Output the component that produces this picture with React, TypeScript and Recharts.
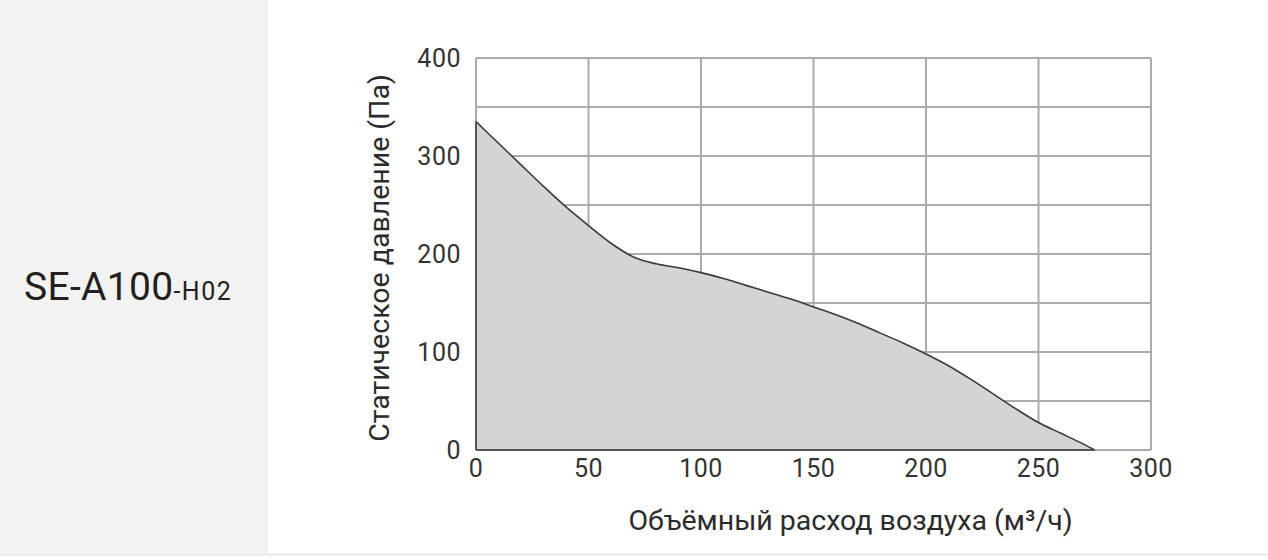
import React from 'react';
import { AreaChart, Area, XAxis, YAxis, CartesianGrid, ReferenceLine } from 'recharts';

// fan curve SE-A100-H02
const airflow = [0, 10, 20, 30, 40, 50, 60, 70, 80, 90, 100, 110, 120, 130, 140, 150, 160, 170, 180, 190, 200, 210, 220, 230, 240, 250, 260, 270, 275];
const pressure = [335, 313, 291, 269, 248, 229, 211, 197, 190, 186, 181, 175, 168, 161, 154, 146, 138, 129, 119, 109, 98, 86, 72, 57, 42, 28, 17, 6, 0];
const xTicks = [0, 50, 100, 150, 200, 250, 300];
const yTicks = [0, 50, 100, 150, 200, 250, 300, 350, 400];

const modelName = 'SE-A100';
const modelSuffix = '-H02';
const xTitle = 'Объёмный расход воздуха (м³/ч)';
const yTitle = 'Статическое давление (Па)';

const data = airflow.map((q, i) => ({ q, p: pressure[i] }));
const qStart = airflow[0];
const qEnd = airflow[airflow.length - 1];

const tickFont = { fontFamily: 'Roboto, sans-serif', fontSize: 25, fill: '#333333', letterSpacing: 0.5 };
const titleFont = 'Roboto, "Noto Sans", sans-serif';

const XTitle = ({ viewBox }: any) => {
  const cx = viewBox.x + viewBox.width / 2 + 37;
  return (
    <text x={cx} y={530} textAnchor="middle" fontFamily={titleFont} fontSize={28.5} fill="#2b2b2b">
      {xTitle}
    </text>
  );
};

const YTitle = ({ viewBox }: any) => {
  const cy = viewBox.y + viewBox.height / 2 + 4;
  const x = 389;
  return (
    <text x={x} y={cy} textAnchor="middle" fontFamily={titleFont} fontSize={28.5} fill="#2b2b2b" transform={`rotate(-90, ${x}, ${cy})`}>
      {yTitle}
    </text>
  );
};

const App = () => {
  return (
    <div style={{ position: 'absolute', left: 0, top: 0, width: 1268, height: 560, background: '#ffffff', overflow: 'hidden' }}>
      <div style={{ position: 'absolute', left: 0, top: 0, width: 268, height: 553, background: '#f2f2f2' }}>
        <div style={{ position: 'absolute', left: 24, top: 264, fontFamily: 'Roboto, sans-serif', color: '#231f20', whiteSpace: 'nowrap' }}>
          <span style={{ fontSize: 39, letterSpacing: 0.3 }}>{modelName}</span>
          <span style={{ fontSize: 25, letterSpacing: 1.5 }}>{modelSuffix}</span>
        </div>
      </div>
      <div style={{ position: 'absolute', left: 0, top: 553, width: 1268, height: 3, background: '#eeeeee' }} />
      <div style={{ position: 'absolute', left: 0, top: 0 }}>
        <AreaChart width={1268} height={560} data={data} margin={{ top: 58, right: 117, left: 396, bottom: 50 }}>
          <CartesianGrid stroke="#ababab" strokeWidth={2} horizontal vertical />
          <XAxis
            dataKey="q"
            type="number"
            domain={[0, 300]}
            ticks={xTicks}
            interval={0}
            axisLine={false}
            tickLine={false}
            tickSize={0}
            tickMargin={9}
            height={60}
            tick={tickFont}
            label={<XTitle />}
          />
          <YAxis
            type="number"
            domain={[0, 400]}
            ticks={yTicks}
            interval={0}
            axisLine={false}
            tickLine={false}
            tickSize={0}
            tickMargin={15}
            width={80}
            tick={tickFont}
            tickFormatter={(v: number) => (v % 100 === 0 ? String(v) : '')}
            label={<YTitle />}
          />
          <Area
            type="monotone"
            dataKey="p"
            stroke="#3a3a3a"
            strokeWidth={1.6}
            fill="#d4d4d4"
            fillOpacity={1}
            isAnimationActive={false}
            dot={false}
            activeDot={false}
          />
          {/* dark outline of the filled region along the axes */}
          <ReferenceLine segment={[{ x: qStart, y: 0 }, { x: qEnd, y: 0 }]} stroke="#555555" strokeWidth={2} />
          <ReferenceLine segment={[{ x: qStart, y: 0 }, { x: qStart, y: pressure[0] }]} stroke="#555555" strokeWidth={2} />
        </AreaChart>
      </div>
    </div>
  );
};

export default App;
